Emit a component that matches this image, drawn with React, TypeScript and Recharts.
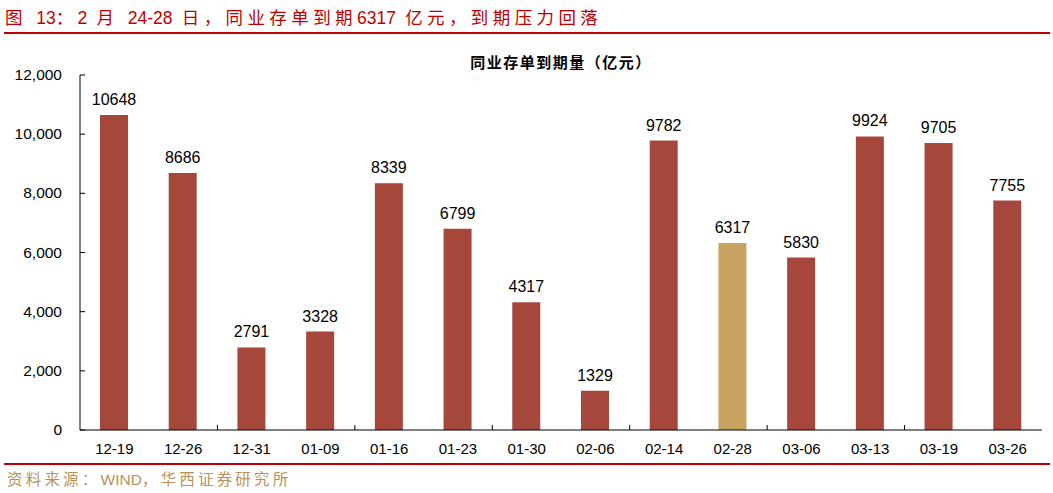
import React from 'react';
import { BarChart, Bar, XAxis, YAxis, Cell, LabelList } from 'recharts';

const dates = ['12-19', '12-26', '12-31', '01-09', '01-16', '01-23', '01-30', '02-06', '02-14', '02-28', '03-06', '03-13', '03-19', '03-26'];
const maturity = [10648, 8686, 2791, 3328, 8339, 6799, 4317, 1329, 9782, 6317, 5830, 9924, 9705, 7755];
const yTicks = [0, 2000, 4000, 6000, 8000, 10000, 12000];
const highlightDate = '02-28';

const BAR = '#a5473b';
const GOLD = '#c9a461';
const FONT = '"Liberation Sans", Arial, "Noto Sans CJK SC", sans-serif';

const W = 1053;
const H = 493;
const PLOT_LEFT = 80;
const PLOT_RIGHT = 1042;
const STEP = (PLOT_RIGHT - PLOT_LEFT) / dates.length;

const data = dates.map((d, i) => ({ date: d, value: maturity[i] }));

// CJK runs get extra spacing, latin/digits stay tight
const Spaced = ({ children, sp }: { children: React.ReactNode; sp: number }) => (
  <span style={{ letterSpacing: sp }}>{children}</span>
);

const YTick = (props: any) => {
  const { x, y, payload } = props;
  return (
    <g>
      <line x1={x} x2={x + 5} y1={y} y2={y} stroke="#000" strokeWidth={1} />
      <text x={x - 18} y={y} dy={5} textAnchor="end" fontSize={15.5} fill="#000" fontFamily={FONT}>
        {payload.value.toLocaleString('en-US')}
      </text>
    </g>
  );
};

const XTick = (props: any) => {
  const { x, y, payload, index } = props;
  const showTick = index % 2 === 1 && index < dates.length - 1;
  return (
    <g>
      {showTick && (
        <line x1={x + STEP / 2} x2={x + STEP / 2} y1={y} y2={y - 5} stroke="#000" strokeWidth={1} />
      )}
      <text x={x} y={y + 24} textAnchor="middle" fontSize={15} fill="#000" fontFamily={FONT}>
        {payload.value}
      </text>
    </g>
  );
};

export default function App() {
  const t = 4.4;
  const s = 3.2;
  return (
    <div style={{ position: 'absolute', left: 0, top: 0, width: W, height: H, background: '#fff', fontFamily: FONT }}>
      <div style={{ position: 'absolute', left: 5, top: 4, fontSize: 17.5, color: '#c00000', whiteSpace: 'nowrap' }}>
        <Spaced sp={t}>图 </Spaced>13<Spaced sp={t}>：</Spaced>2<Spaced sp={t}> 月 </Spaced>24-28
        <Spaced sp={t}> 日，同业存单到期</Spaced>6317<Spaced sp={t}> 亿元，到期压力回落</Spaced>
      </div>
      <div style={{ position: 'absolute', left: 4, top: 32, width: 1046, height: 1.5, background: '#c00000' }} />
      <div
        style={{
          position: 'absolute',
          left: PLOT_LEFT,
          width: PLOT_RIGHT - PLOT_LEFT,
          top: 51,
          textAlign: 'center',
          fontSize: 15,
          fontWeight: 'bold',
          letterSpacing: 1.5,
          color: '#000',
        }}
      >
        同业存单到期量（亿元）
      </div>
      <div style={{ position: 'absolute', left: 0, top: 0 }}>
        <BarChart
          width={W}
          height={460}
          data={data}
          margin={{ top: 75, right: W - PLOT_RIGHT, left: 0, bottom: 0 }}
          barCategoryGap="30%"
        >
          <YAxis
            width={PLOT_LEFT}
            domain={[0, 12000]}
            ticks={yTicks}
            interval={0}
            axisLine={{ stroke: '#000', strokeWidth: 1 }}
            tickLine={false}
            tickSize={0}
            tickMargin={0}
            tick={<YTick />}
          />
          <XAxis
            dataKey="date"
            height={30}
            interval={0}
            axisLine={{ stroke: '#000', strokeWidth: 1 }}
            tickLine={false}
            tickSize={0}
            tickMargin={0}
            tick={<XTick />}
          />
          <Bar dataKey="value" barSize={28} isAnimationActive={false}>
            {data.map((d, i) => (
              <Cell key={`c-${i}`} fill={d.date === highlightDate ? GOLD : BAR} />
            ))}
            <LabelList dataKey="value" position="top" offset={10} fontSize={16} fill="#000" fontFamily={FONT} />
          </Bar>
        </BarChart>
      </div>
      <div style={{ position: 'absolute', left: 4, top: 463, width: 1046, height: 1.5, background: '#c00000' }} />
      <div style={{ position: 'absolute', left: 7, top: 467, fontSize: 15.5, color: '#b8925a', whiteSpace: 'nowrap' }}>
        <Spaced sp={s}>资料来源：</Spaced>WIND<Spaced sp={s}>，华西证券研究所</Spaced>
      </div>
    </div>
  );
}
